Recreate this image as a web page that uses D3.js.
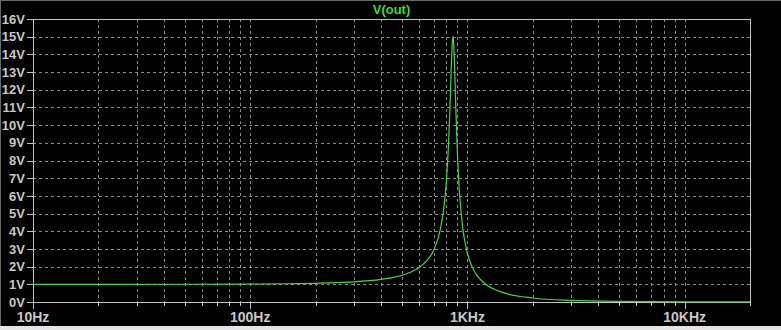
<!DOCTYPE html>
<html>
<head>
<meta charset="utf-8">
<script src="https://cdn.jsdelivr.net/npm/d3@7"></script>
<style>
  html, body { margin: 0; padding: 0; background: #000; }
  svg { display: block; }
</style>
</head>
<body>
<div id="chart"></div>
<script>
// data: frequency (Hz) and V(out) (V)
const freqs = [10, 50, 100, 150, 200, 250, 300, 400, 450, 500, 550, 600, 650, 700, 750, 780, 800,
  820, 830, 840, 845, 850, 855, 859, 863, 870, 875, 880, 890, 900, 910, 920, 950, 1000, 1050,
  1100, 1200, 1300, 1500, 2000, 3000, 5000, 10000, 20000];
const vout = [1.0, 1.003, 1.014, 1.031, 1.057, 1.093, 1.139, 1.277, 1.378, 1.512, 1.695, 1.953, 2.34, 2.94, 4.09, 5.39, 6.82,
  9.15, 10.81, 12.74, 13.68, 14.45, 14.92, 15.0, 14.78, 13.83, 12.89, 11.87, 9.91, 8.33, 7.08, 6.12, 4.26, 2.75, 2.0,
  1.55, 1.05, 0.775, 0.488, 0.226, 0.089, 0.030, 0.0074, 0.0018];
const yTicks = d3.range(0, 17);
const xMajor = [10, 100, 1000, 10000];
const xMajorLabels = ["10Hz", "100Hz", "1KHz", "10KHz"];
const seriesName = "V(out)";

const width = 781, height = 330;
const margin = { top: 19, right: 31, bottom: 28, left: 33 };

const svg = d3.select("#chart")
    .append("svg")
    .attr("width", width)
    .attr("height", height);

// window background + border
svg.append("rect").attr("width", width).attr("height", height).attr("fill", "#000");
svg.append("rect").attr("x", 0).attr("y", 326).attr("width", width).attr("height", 4).attr("fill", "#e4e4e4");
svg.append("line").attr("x1", 0).attr("x2", width).attr("y1", 0.5).attr("y2", 0.5).attr("stroke", "#6a6a6a");
svg.append("line").attr("x1", 0.5).attr("x2", 0.5).attr("y1", 0).attr("y2", 326).attr("stroke", "#6a6a6a");

const x = d3.scaleLog()
    .domain([10, 20000])
    .range([margin.left, width - margin.right]);

const y = d3.scaleLinear()
    .domain([0, 16])
    .range([height - margin.bottom, margin.top]);

const x0 = x.range()[0], x1 = x.range()[1];
const y0 = y.range()[0], y1 = y.range()[1];

// every 1..9 multiple of each decade
const xMinor = [];
for (let d = 10; d <= 10000; d *= 10) {
    for (let m = 1; m <= 9; m++) {
        const f = d * m;
        if (f <= 20000) xMinor.push(f);
    }
}

const gridColor = "#8a8a8a";
const axisColor = "#c4c4c4";
const textColor = "#c8c8c8";

// grid
svg.append("g")
    .selectAll("line")
    .data(xMinor.filter(f => f > 10))
    .join("line")
    .attr("x1", d => Math.round(x(d)) + 0.5)
    .attr("x2", d => Math.round(x(d)) + 0.5)
    .attr("y1", y1)
    .attr("y2", y0)
    .attr("stroke", gridColor)
    .attr("stroke-dasharray", "3,3");

svg.append("g")
    .selectAll("line")
    .data(yTicks.filter(v => v > 0 && v < 16))
    .join("line")
    .attr("x1", x0)
    .attr("x2", x1)
    .attr("y1", d => Math.round(y(d)) + 0.5)
    .attr("y2", d => Math.round(y(d)) + 0.5)
    .attr("stroke", gridColor)
    .attr("stroke-dasharray", "3,3");

// frame
svg.append("rect")
    .attr("x", x0 + 0.5)
    .attr("y", y1 + 0.5)
    .attr("width", x1 - x0)
    .attr("height", y0 - y1)
    .attr("fill", "none")
    .attr("stroke", axisColor);

// y ticks + labels
svg.append("g")
    .selectAll("line")
    .data(yTicks)
    .join("line")
    .attr("x1", x0 - 6)
    .attr("x2", x0)
    .attr("y1", d => Math.round(y(d)) + 0.5)
    .attr("y2", d => Math.round(y(d)) + 0.5)
    .attr("stroke", axisColor);

svg.append("g")
    .style("font-family", "'Liberation Sans', Arial, sans-serif")
    .style("font-size", "13px")
    .style("font-weight", "bold")
    .selectAll("text")
    .data(yTicks)
    .join("text")
    .attr("x", x0 - 8)
    .attr("y", d => y(d))
    .attr("dy", "0.36em")
    .attr("text-anchor", "end")
    .attr("fill", textColor)
    .text(d => d + "V");

// x ticks + labels
svg.append("g")
    .selectAll("line")
    .data(xMinor)
    .join("line")
    .attr("x1", d => Math.round(x(d)) + 0.5)
    .attr("x2", d => Math.round(x(d)) + 0.5)
    .attr("y1", y0)
    .attr("y2", d => xMajor.includes(d) ? y0 + 7 : y0 + 4)
    .attr("stroke", axisColor);

svg.append("g")
    .style("font-family", "'Liberation Sans', Arial, sans-serif")
    .style("font-size", "14px")
    .style("font-weight", "bold")
    .selectAll("text")
    .data(xMajor)
    .join("text")
    .attr("x", d => x(d))
    .attr("y", y0 + 20)
    .attr("text-anchor", "middle")
    .attr("fill", textColor)
    .text((d, i) => xMajorLabels[i]);

// title
svg.append("text")
    .attr("x", (x0 + x1) / 2)
    .attr("y", 14)
    .attr("text-anchor", "middle")
    .style("font-family", "'Liberation Sans', Arial, sans-serif")
    .style("font-size", "13px")
    .style("font-weight", "bold")
    .attr("fill", "#3cdc3c")
    .text(seriesName);

// trace
const pts = freqs.map((f, i) => [f, vout[i]]);
const line = d3.line()
    .x(d => x(d[0]))
    .y(d => y(d[1]))
    .curve(d3.curveMonotoneX);

svg.append("path")
    .datum(pts)
    .attr("d", line)
    .attr("fill", "none")
    .attr("stroke", "#4ed24e")
    .attr("stroke-width", 1.2);
</script>
</body>
</html>
